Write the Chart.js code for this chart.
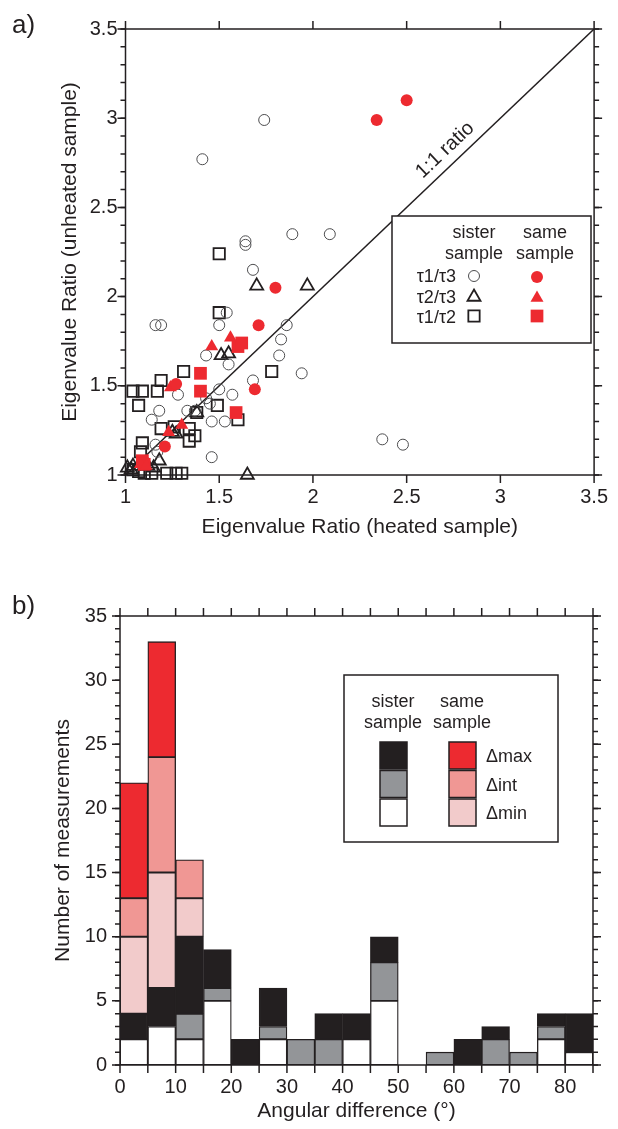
<!DOCTYPE html>
<html>
<head>
<meta charset="utf-8">
<script src="https://cdn.jsdelivr.net/npm/chart.js@4.4.1/dist/chart.umd.min.js"></script>
<style>
  html, body { margin: 0; padding: 0; background: #fff; }
  canvas { position: absolute; left: 0; }
  #chartA { top: 0; }
  #chartB { top: 560px; }
</style>
</head>
<body>
<canvas id="chartA" width="618" height="560"></canvas>
<canvas id="chartB" width="618" height="569"></canvas>
<script>
var INK = '#231f20';
var RED = '#ed2a30';
var FONT = '"Liberation Sans", Arial, Helvetica, sans-serif';

// a) eigenvalue ratios as [heated, unheated]
var sisterT13 = [[1.74,2.99],[1.41,2.77],[1.89,2.35],[2.09,2.35],[1.64,2.31],[1.64,2.29],[1.68,2.15],
  [1.54,1.91],[1.50,1.84],[1.86,1.84],[1.83,1.76],[1.82,1.67],[1.43,1.67],[1.55,1.62],[1.94,1.57],
  [1.68,1.53],[1.16,1.84],[1.19,1.84],[1.28,1.45],[1.50,1.48],[1.57,1.45],[1.43,1.43],[1.45,1.40],
  [1.18,1.36],[1.33,1.36],[1.37,1.36],[1.14,1.31],[1.46,1.30],[1.53,1.30],[1.16,1.17],[1.17,1.13],
  [1.46,1.10],[2.37,1.20],[2.48,1.17]];
var sisterT23 = [[1.70,2.06],[1.97,2.06],[1.51,1.67],[1.55,1.68],[1.38,1.35],[1.25,1.24],[1.27,1.23],
  [1.18,1.08],[1.65,1.00],[1.01,1.04],[1.04,1.05],[1.03,1.03],[1.12,1.05],[1.15,1.04]];
var sisterT12 = [[1.50,2.24],[1.50,1.91],[1.78,1.58],[1.31,1.58],[1.19,1.53],[1.04,1.47],[1.09,1.47],
  [1.17,1.47],[1.07,1.39],[1.49,1.39],[1.38,1.35],[1.60,1.31],[1.19,1.26],[1.26,1.27],[1.34,1.26],
  [1.37,1.22],[1.34,1.19],[1.09,1.18],[1.08,1.13],[1.07,1.02],[1.10,1.01],[1.14,1.01],[1.22,1.01],
  [1.27,1.01],[1.30,1.01],[1.04,1.03]];
var sameT13 = [[2.34,2.99],[2.50,3.10],[1.80,2.05],[1.71,1.84],[1.69,1.48],[1.27,1.51],[1.21,1.16]];
var sameT23 = [[1.46,1.72],[1.56,1.77],[1.24,1.49],[1.23,1.24],[1.30,1.28],[1.08,1.06],[1.11,1.05]];
var sameT12 = [[1.60,1.72],[1.62,1.74],[1.40,1.57],[1.40,1.47],[1.59,1.35],[1.09,1.08],[1.10,1.06]];
var ratioLine = [1, 3.5];

// b) angular differences, 5 degree bins starting at binStart
var binStart  = [0,5,10,15,20,25,30,35,40,45,50,55,60,65,70,75,80];
var binWidth  = 5;
var sisterMin = [2,3,2,5,0,2,0,0,2,5,0,0,0,0,0,2,1];
var sisterInt = [0,0,2,1,0,1,2,2,0,3,0,1,0,2,1,1,0];
var sisterMax = [2,3,6,3,2,3,0,2,2,2,0,0,2,1,0,1,3];
var sameMin   = [6,9,3,0,0,0,0,0,0,0,0,0,0,0,0,0,0];
var sameInt   = [3,9,3,0,0,0,0,0,0,0,0,0,0,0,0,0,0];
var sameMax   = [9,9,0,0,0,0,0,0,0,0,0,0,0,0,0,0,0];

Chart.defaults.font.family = FONT;
Chart.defaults.color = INK;

function pts(list) {
  return list.map(function (p) { return {x: p[0], y: p[1]}; });
}

function bins(vals) {
  var out = [];
  vals.forEach(function (v, i) {
    if (v > 0) out.push({x: binStart[i] + binWidth / 2, y: v});
  });
  return out;
}

/* plain number, no trailing zero: 1, 1.5, 2 ... */
function plain(v) { return String(Number(v.toFixed(2))); }

/* box round the plot area plus the tick marks on each side */
function framePlugin(name, specs, letter, letterY) {
  return {
    id: name,
    afterDraw: function (chart) {
      var a = chart.chartArea, ctx = chart.ctx;
      ctx.save();
      ctx.strokeStyle = INK;
      ctx.lineWidth = 1.5;
      ctx.strokeRect(a.left, a.top, a.right - a.left, a.bottom - a.top);
      specs.forEach(function (t) {
        var scale = chart.scales[t.axis];
        var n = Math.round((scale.max - scale.min) / t.step);
        ctx.beginPath();
        for (var i = 0; i <= n; i++) {
          var p = scale.getPixelForValue(scale.min + i * t.step);
          if (t.side === 'left')   { ctx.moveTo(a.left, p);   ctx.lineTo(a.left - t.len, p); }
          if (t.side === 'right')  { ctx.moveTo(a.right, p);  ctx.lineTo(a.right + t.len, p); }
          if (t.side === 'top')    { ctx.moveTo(p, a.top);    ctx.lineTo(p, a.top - t.len); }
          if (t.side === 'bottom') { ctx.moveTo(p, a.bottom); ctx.lineTo(p, a.bottom + t.len); }
        }
        ctx.stroke();
      });
      ctx.fillStyle = INK;
      ctx.font = '26px ' + FONT;
      ctx.textAlign = 'left';
      ctx.textBaseline = 'alphabetic';
      ctx.fillText(letter, 12, letterY);
      ctx.restore();
    }
  };
}

function marker(ctx, style, r, x, y, fill, stroke, bw) {
  ctx.fillStyle = fill || 'rgba(0,0,0,0)';
  ctx.strokeStyle = stroke || 'rgba(0,0,0,0)';
  ctx.lineWidth = bw;
  Chart.helpers.drawPoint(ctx, {pointStyle: style, radius: r, rotation: 0, borderWidth: bw}, x, y);
}

var legendA = {
  id: 'legendA',
  afterDraw: function (chart) {
    var ctx = chart.ctx;
    ctx.save();
    ctx.fillStyle = '#fff';
    ctx.fillRect(392, 216, 199, 127);
    ctx.strokeStyle = INK;
    ctx.lineWidth = 1.5;
    ctx.strokeRect(392, 216, 199, 127);
    ctx.fillStyle = INK;
    ctx.font = '18px ' + FONT;
    ctx.textBaseline = 'alphabetic';
    ctx.textAlign = 'center';
    ctx.fillText('sister', 474, 238);
    ctx.fillText('sample', 474, 259);
    ctx.fillText('same', 545, 238);
    ctx.fillText('sample', 545, 259);
    ctx.textAlign = 'right';
    ctx.fillText('\u03c41/\u03c43', 456, 282);
    ctx.fillText('\u03c42/\u03c43', 456, 303);
    ctx.fillText('\u03c41/\u03c42', 456, 323);
    marker(ctx, 'circle', 5.5, 474, 276, null, '#4d4d4f', 1);
    marker(ctx, 'triangle', 7.5, 474, 297, null, INK, 1.8);
    marker(ctx, 'rect', 8, 474, 316, null, INK, 1.8);
    marker(ctx, 'circle', 6, 537, 277, RED, null, 0);
    marker(ctx, 'triangle', 7.5, 537, 298, RED, null, 0);
    marker(ctx, 'rect', 9, 537, 316, RED, null, 0);
    ctx.restore();
  }
};

var ratioLabel = {
  id: 'ratioLabel',
  afterDatasetsDraw: function (chart) {
    var xs = chart.scales.x, ys = chart.scales.y, ctx = chart.ctx;
    var x0 = xs.getPixelForValue(ratioLine[0]), y0 = ys.getPixelForValue(ratioLine[0]);
    var x1 = xs.getPixelForValue(ratioLine[1]), y1 = ys.getPixelForValue(ratioLine[1]);
    var ang = Math.atan2(y1 - y0, x1 - x0);
    var cx = xs.getPixelForValue(2.76), cy = ys.getPixelForValue(2.76);
    cx += Math.sin(ang) * 15;
    cy -= Math.cos(ang) * 15;
    ctx.save();
    ctx.translate(cx, cy);
    ctx.rotate(ang);
    ctx.fillStyle = INK;
    ctx.font = '20px ' + FONT;
    ctx.textAlign = 'center';
    ctx.textBaseline = 'middle';
    ctx.fillText('1:1 ratio', 0, 0);
    ctx.restore();
  }
};

var legendB = {
  id: 'legendB',
  afterDraw: function (chart) {
    var ctx = chart.ctx;
    ctx.save();
    ctx.fillStyle = '#fff';
    ctx.fillRect(344, 115, 214, 167);
    ctx.strokeStyle = INK;
    ctx.lineWidth = 1.5;
    ctx.strokeRect(344, 115, 214, 167);
    ctx.fillStyle = INK;
    ctx.font = '18px ' + FONT;
    ctx.textAlign = 'center';
    ctx.textBaseline = 'alphabetic';
    ctx.fillText('sister', 393, 147);
    ctx.fillText('sample', 393, 168);
    ctx.fillText('same', 462, 147);
    ctx.fillText('sample', 462, 168);
    var sis = ['#231f20', '#939598', '#ffffff'];
    var sam = ['#ed2a30', '#f09794', '#f2cbcb'];
    var names = ['\u0394max', '\u0394int', '\u0394min'];
    for (var i = 0; i < 3; i++) {
      var top = 182 + i * 28.5;
      ctx.fillStyle = sis[i];
      ctx.fillRect(380, top, 27, 27);
      ctx.strokeRect(380, top, 27, 27);
      ctx.fillStyle = sam[i];
      ctx.fillRect(449, top, 27, 27);
      ctx.strokeRect(449, top, 27, 27);
      ctx.fillStyle = INK;
      ctx.textAlign = 'left';
      ctx.fillText(names[i], 486, top + 20);
    }
    ctx.restore();
  }
};

function axisFont(size) { return {family: FONT, size: size}; }

new Chart(document.getElementById('chartA'), {
  type: 'scatter',
  data: {
    datasets: [
      {data: pts(sameT13), pointStyle: 'circle', pointRadius: 6, backgroundColor: RED, borderWidth: 0, order: 0, clip: false},
      {data: pts(sameT23), pointStyle: 'triangle', pointRadius: 7.5, backgroundColor: RED, borderWidth: 0, order: 0, clip: false},
      {data: pts(sameT12), pointStyle: 'rect', pointRadius: 9, backgroundColor: RED, borderWidth: 0, order: 0, clip: false},
      {data: pts(sisterT13), pointStyle: 'circle', pointRadius: 5.5, backgroundColor: 'rgba(0,0,0,0)', borderColor: '#4d4d4f', borderWidth: 1, order: 1, clip: false},
      {data: pts(sisterT23), pointStyle: 'triangle', pointRadius: 7.5, backgroundColor: 'rgba(0,0,0,0)', borderColor: INK, borderWidth: 1.8, order: 1, clip: false},
      {data: pts(sisterT12), pointStyle: 'rect', pointRadius: 8, backgroundColor: 'rgba(0,0,0,0)', borderColor: INK, borderWidth: 1.8, order: 1, clip: false},
      {type: 'line', data: pts([[ratioLine[0], ratioLine[0]], [ratioLine[1], ratioLine[1]]]), borderColor: INK, borderWidth: 1.5, pointRadius: 0, order: 3}
    ]
  },
  options: {
    responsive: false,
    animation: false,
    events: [],
    layout: {padding: {top: 29, right: 20, left: 0, bottom: 0}},
    plugins: {legend: {display: false}, tooltip: {enabled: false}},
    scales: {
      x: {
        type: 'linear', min: 1, max: 3.5,
        ticks: {stepSize: 0.5, font: axisFont(20), color: INK, padding: 10, callback: plain},
        grid: {display: false, drawTicks: false}, border: {display: false},
        title: {display: true, text: 'Eigenvalue Ratio (heated sample)', font: axisFont(21), color: INK, padding: {top: 0, bottom: 20}},
        afterFit: function (s) { s.height = 85; }
      },
      y: {
        type: 'linear', min: 1, max: 3.5,
        ticks: {stepSize: 0.5, font: axisFont(20), color: INK, padding: 8, callback: plain},
        grid: {display: false, drawTicks: false}, border: {display: false},
        title: {display: true, text: 'Eigenvalue Ratio (unheated sample)', font: axisFont(21), color: INK, padding: {top: 58, bottom: 0}},
        afterFit: function (s) { s.width = 125.5; }
      }
    }
  },
  plugins: [framePlugin('frameA', [
    {axis: 'y', side: 'left', step: 0.1, len: 5},
    {axis: 'y', side: 'left', step: 0.5, len: 8},
    {axis: 'y', side: 'right', step: 0.1, len: 5},
    {axis: 'y', side: 'right', step: 0.5, len: 8},
    {axis: 'x', side: 'top', step: 0.5, len: 8},
    {axis: 'x', side: 'bottom', step: 0.5, len: 8}
  ], 'a)', 33), ratioLabel, legendA]
});

var barStyle = {borderColor: INK, borderWidth: 1.3, borderSkipped: false, barPercentage: 1, categoryPercentage: 1};
function barSet(vals, color) {
  return Object.assign({data: bins(vals), backgroundColor: color}, barStyle);
}

new Chart(document.getElementById('chartB'), {
  type: 'bar',
  data: {
    datasets: [
      barSet(sisterMin, '#ffffff'),
      barSet(sisterInt, '#939598'),
      barSet(sisterMax, '#231f20'),
      barSet(sameMin, '#f2cbcb'),
      barSet(sameInt, '#f09794'),
      barSet(sameMax, '#ed2a30')
    ]
  },
  options: {
    responsive: false,
    animation: false,
    events: [],
    layout: {padding: {top: 56, right: 25, left: 0, bottom: 0}},
    plugins: {legend: {display: false}, tooltip: {enabled: false}},
    scales: {
      x: {
        type: 'linear', min: 0, max: 85, offset: false, stacked: true,
        ticks: {stepSize: 10, includeBounds: false, font: axisFont(20), color: INK, padding: 10},
        grid: {display: false, drawTicks: false}, border: {display: false},
        title: {display: true, text: 'Angular difference (\u00b0)', font: axisFont(21), color: INK, padding: {top: 0, bottom: 5}},
        afterFit: function (s) { s.height = 64; }
      },
      y: {
        type: 'linear', min: 0, max: 35, stacked: true,
        ticks: {stepSize: 5, font: axisFont(20), color: INK, padding: 13},
        grid: {display: false, drawTicks: false}, border: {display: false},
        title: {display: true, text: 'Number of measurements', font: axisFont(21), color: INK, padding: {top: 51, bottom: 0}},
        afterFit: function (s) { s.width = 120; }
      }
    }
  },
  plugins: [framePlugin('frameB', [
    {axis: 'y', side: 'left', step: 1, len: 5},
    {axis: 'y', side: 'left', step: 5, len: 8},
    {axis: 'y', side: 'right', step: 1, len: 5},
    {axis: 'y', side: 'right', step: 5, len: 8},
    {axis: 'x', side: 'top', step: 5, len: 8},
    {axis: 'x', side: 'bottom', step: 5, len: 8}
  ], 'b)', 54), legendB]
});
</script>
</body>
</html>
